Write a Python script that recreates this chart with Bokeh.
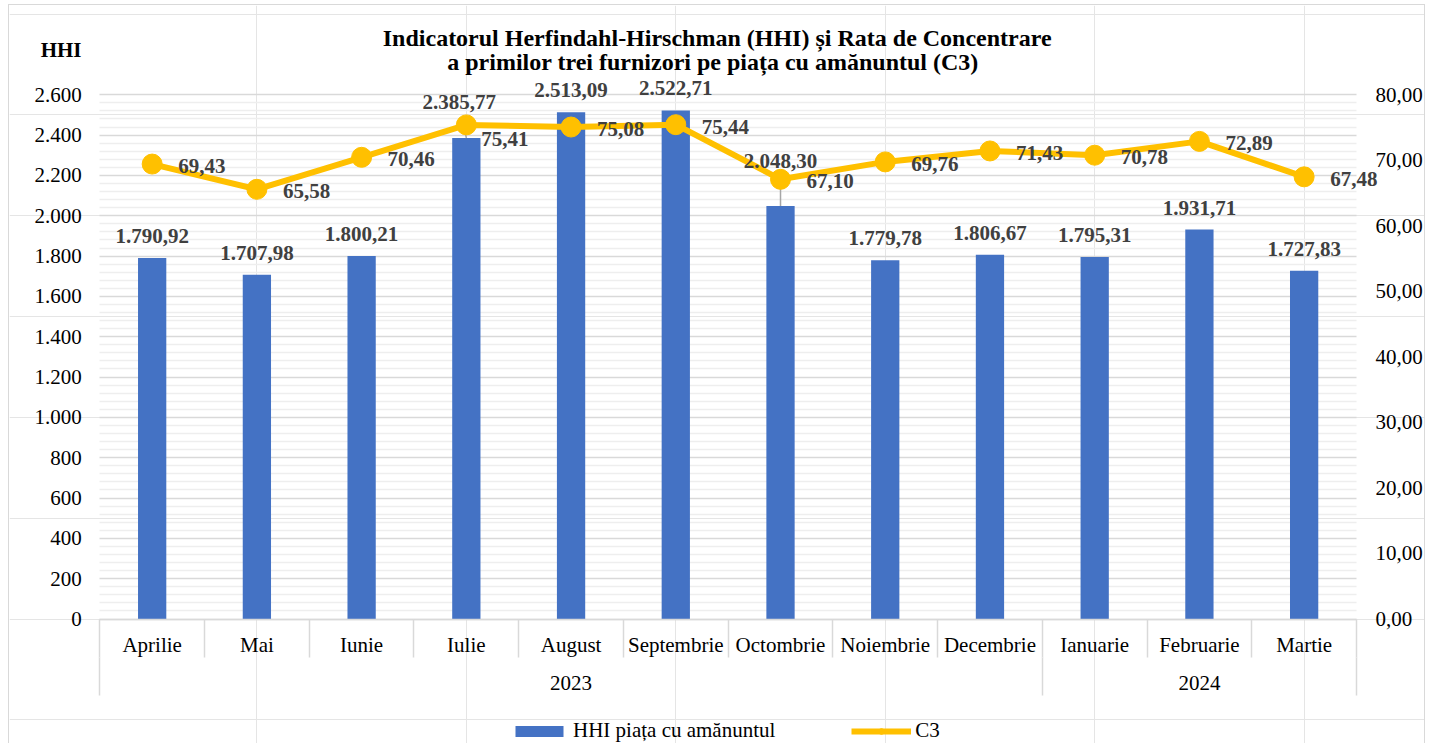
import numpy as np
from bokeh.plotting import figure
from bokeh.models import (Range1d, LinearAxis, FixedTicker, ColumnDataSource, LabelSet,
                          Label, Legend, LegendItem, Grid)
from bokeh.core.properties import value
from bokeh.embed import file_html
from bokeh.resources import INLINE

# ---------------- data ----------------
months = ["Aprilie", "Mai", "Iunie", "Iulie", "August", "Septembrie", "Octombrie",
          "Noiembrie", "Decembrie", "Ianuarie", "Februarie", "Martie"]
years = ["2023", "2023", "2023", "2023", "2023", "2023", "2023", "2023", "2023",
         "2024", "2024", "2024"]
hhi = [1790.92, 1707.98, 1800.21, 2385.77, 2513.09, 2522.71, 2048.30, 1779.78,
       1806.67, 1795.31, 1931.71, 1727.83]
c3 = [69.43, 65.58, 70.46, 75.41, 75.08, 75.44, 67.10, 69.76, 71.43, 70.78, 72.89, 67.48]
hhi_ticks = [0, 200, 400, 600, 800, 1000, 1200, 1400, 1600, 1800, 2000, 2200, 2400, 2600]
c3_ticks = [0, 10, 20, 30, 40, 50, 60, 70, 80]
title_lines = ["Indicatorul Herfindahl-Hirschman (HHI) și Rata de Concentrare",
               "a primilor trei furnizori pe piața cu amănuntul (C3)"]
series_names = ["HHI piața cu amănuntul", "C3"]
left_title = "HHI"

# label nudges (screen px) for labels moved by hand in the original
bar_label_nudge = {"Iulie": (-7, 36), "Octombrie": (0, 45)}
c3_label_nudge = {"Iulie": (15, -14)}


def ro(v, d=2):
    s = f"{v:,.{d}f}"
    return s.replace(",", "X").replace(".", ",").replace("X", ".")


# ---------------- layout constants (canvas px) ----------------
W, H = 1417, 739
PLOT_L, PLOT_R, PLOT_T, PLOT_B = 90.3, 1347.0, 89.3, 613.5
BAND = 38            # height of one category-axis level
FONT = "Liberation Serif"
FS = "21px"
TITLE_FS = "24px"
BLUE = "#4472C4"
GOLD = "#FFC000"
GRID_MAJOR = "#d9d9d9"
GRID_MINOR = "#eeeeee"
LABEL_COL = "#404040"

n = len(months)
xs = np.arange(1, n + 1)
ymax = hhi_ticks[-1]
cat_px = (PLOT_R - PLOT_L) / n
ppu = (PLOT_B - PLOT_T) / ymax
k = c3_ticks[-1] / ymax

x_start = 0.5 - PLOT_L / cat_px
x_end = n + 0.5 + (W - PLOT_R) / cat_px
y_start = -(H - PLOT_B) / ppu
y_end = ymax + PLOT_T / ppu

p = figure(width=W, height=H, x_range=Range1d(x_start, x_end),
           y_range=Range1d(y_start, y_end),
           output_backend="svg", toolbar_location=None,
           x_axis_location=None, y_axis_location=None,
           min_border_left=0, min_border_right=0, min_border_top=0, min_border_bottom=0)
p.extra_y_ranges = {"c3": Range1d(y_start * k, y_end * k)}
p.outline_line_color = None
p.background_fill_color = None
p.border_fill_color = None
p.styles = {"margin-left": "8px", "margin-top": "4px",
            "border-left": "1px solid #d9d9d9", "border-top": "1px solid #d9d9d9",
            "border-right": "1px solid #d9d9d9"}

# ---------------- grid ----------------
minor = [t for t in range(0, ymax + 1, 40) if t not in hhi_ticks]
if "cross_bounds" in Grid.properties():
    grid = Grid(dimension=1, ticker=FixedTicker(ticks=hhi_ticks, minor_ticks=minor),
                bounds=(0, ymax), cross_bounds=(0.5, n + 0.5),
                grid_line_color=GRID_MAJOR, grid_line_width=1.5,
                minor_grid_line_color=GRID_MINOR, minor_grid_line_width=1.5)
    p.add_layout(grid, "center")
else:
    p.segment(x0=[0.5] * len(minor), x1=[n + 0.5] * len(minor), y0=minor, y1=minor,
              line_color=GRID_MINOR, line_width=1.5)
    p.segment(x0=[0.5] * len(hhi_ticks), x1=[n + 0.5] * len(hhi_ticks), y0=hhi_ticks,
              y1=hhi_ticks, line_color=GRID_MAJOR, line_width=1.5)

axis_text = dict(major_label_text_font=FONT, major_label_text_font_size=FS,
                 major_label_text_color="black")

# ---------------- left axis ----------------
ax_l = LinearAxis(ticker=FixedTicker(ticks=hhi_ticks), fixed_location=0.5,
                  major_label_overrides={t: ro(t, 0) for t in hhi_ticks},
                  axis_line_color=None, major_tick_line_color=None,
                  minor_tick_line_color=None, major_tick_out=0, major_tick_in=0,
                  minor_tick_out=0, minor_tick_in=0,
                  major_label_standoff=18, **axis_text)
p.add_layout(ax_l, "left")

# ---------------- right axis ----------------
ax_r = LinearAxis(y_range_name="c3", ticker=FixedTicker(ticks=c3_ticks),
                  fixed_location=n + 0.5,
                  major_label_overrides={t: ro(t, 2) for t in c3_ticks},
                  axis_line_color=None, major_tick_line_color=None,
                  minor_tick_line_color=None, major_tick_out=0, major_tick_in=0,
                  minor_tick_out=0, minor_tick_in=0,
                  major_label_standoff=19, **axis_text)
p.add_layout(ax_r, "right")

# ---------------- bottom axis: months ----------------
bounds = [i + 0.5 for i in range(0, n + 1)]
ax_m = LinearAxis(ticker=FixedTicker(ticks=list(xs), minor_ticks=bounds),
                  fixed_location=0, bounds=(0.5, n + 0.5),
                  major_label_overrides={int(x): m for x, m in zip(xs, months)},
                  axis_line_color=GRID_MAJOR, axis_line_width=1.5,
                  major_tick_line_color=None, major_tick_out=0, major_tick_in=0,
                  minor_tick_line_color=GRID_MAJOR, minor_tick_line_width=1.5,
                  minor_tick_out=0, minor_tick_in=-BAND,
                  major_label_standoff=14, **axis_text)
p.add_layout(ax_m, "below")

# ---------------- bottom axis: years ----------------
groups = []
for i, y in enumerate(years):
    if not groups or groups[-1][0] != y:
        groups.append([y, i + 1, i + 1])
    else:
        groups[-1][2] = i + 1
year_centers = [(g[1] + g[2]) / 2 for g in groups]
year_bounds = [groups[0][1] - 0.5] + [g[2] + 0.5 for g in groups]
ax_y = LinearAxis(ticker=FixedTicker(ticks=year_centers, minor_ticks=year_bounds),
                  fixed_location=-BAND / ppu, bounds=(0.5, n + 0.5),
                  major_label_overrides={c: g[0] for c, g in zip(year_centers, groups)},
                  axis_line_color=None,
                  major_tick_line_color=None, major_tick_out=0, major_tick_in=0,
                  minor_tick_line_color=GRID_MAJOR, minor_tick_line_width=1.5,
                  minor_tick_out=0, minor_tick_in=-BAND,
                  major_label_standoff=19, **axis_text)
p.add_layout(ax_y, "below")

# ---------------- data ----------------
bdx = [bar_label_nudge.get(m, (0, 22))[0] for m in months]
bdy = [bar_label_nudge.get(m, (0, 22))[1] for m in months]
cdx = [c3_label_nudge.get(m, (26, -2))[0] for m in months]
cdy = [c3_label_nudge.get(m, (26, -2))[1] for m in months]
src = ColumnDataSource(dict(x=xs, hhi=hhi, c3=c3,
                            hhi_lbl=[ro(v) for v in hhi], c3_lbl=[ro(v) for v in c3],
                            bdx=bdx, bdy=bdy, cdx=cdx, cdy=cdy))

bars = p.vbar(x="x", top="hhi", width=0.27, source=src, fill_color=BLUE, line_color=None)

# leader lines for labels moved by hand
lead = dict(x0=[], y0=[], x1=[], y1=[])
for i, m in enumerate(months):
    if m in bar_label_nudge:
        dx, dy = bar_label_nudge[m]
        lead["x0"].append(xs[i])
        lead["y0"].append(hhi[i])
        lead["x1"].append(xs[i] + dx * 0.6 / cat_px)
        lead["y1"].append(hhi[i] + (dy - 15) / ppu)
p.segment(x0="x0", y0="y0", x1="x1", y1="y1", source=ColumnDataSource(lead),
          line_color="#a6a6a6", line_width=1.5)

line = p.line(x="x", y="c3", source=src, y_range_name="c3", line_color=GOLD,
              line_width=6, line_join="round")
dots = p.scatter(x="x", y="c3", source=src, y_range_name="c3", size=20,
                 fill_color=GOLD, line_color=GOLD)

lab_b = LabelSet(x="x", y="hhi", text="hhi_lbl", source=src, x_offset="bdx", y_offset="bdy",
                 text_align="center", text_baseline="middle",
                 text_font=value(FONT), text_font_size=value(FS),
                 text_font_style="bold", text_color=LABEL_COL)
lab_c = LabelSet(x="x", y="c3", text="c3_lbl", source=src, y_range_name="c3",
                 x_offset="cdx", y_offset="cdy",
                 text_align="left", text_baseline="middle",
                 text_font=value(FONT), text_font_size=value(FS),
                 text_font_style="bold", text_color=LABEL_COL)
p.add_layout(lab_b)
p.add_layout(lab_c)


# ---------------- titles (screen px from canvas lower-left) ----------------
def add_text(txt, sx, sy, align, size):
    p.add_layout(Label(x=sx, y=sy, x_units="screen", y_units="screen", text=txt,
                       text_align=align, text_baseline="middle", text_font=FONT,
                       text_font_size=size, text_font_style="bold",
                       text_color="black"))


add_text(title_lines[0], 707.7, 707, "center", TITLE_FS)
add_text(title_lines[1], 703.5, 683, "center", TITLE_FS)
add_text(left_title, 72, 695, "right", FS)

legend = Legend(items=[LegendItem(label=series_names[0], renderers=[bars]),
                       LegendItem(label=series_names[1], renderers=[line, dots])],
                orientation="horizontal", location=(500, 1),
                glyph_width=60, glyph_height=14, label_standoff=4, spacing=76,
                padding=0, margin=0, border_line_color=None, background_fill_alpha=0,
                label_text_font=FONT, label_text_font_size=FS,
                label_text_color="black")
p.add_layout(legend, "center")

open("out.html", "w").write(file_html(p, INLINE))
